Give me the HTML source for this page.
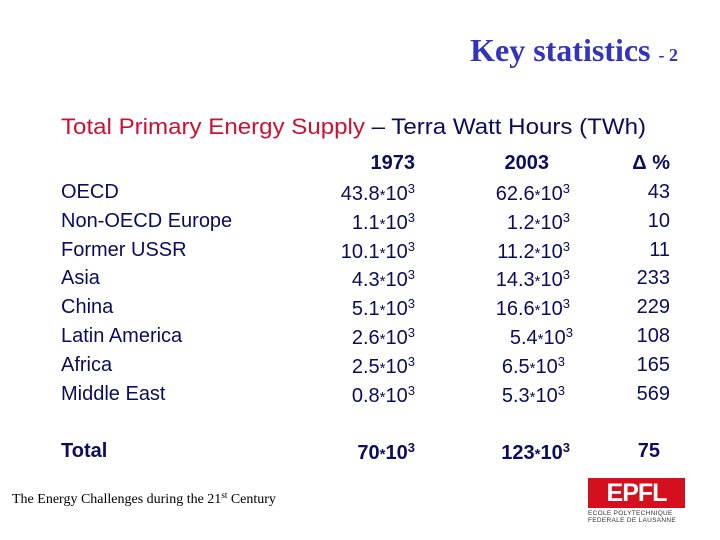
<!DOCTYPE html>
<html><head><meta charset="utf-8"><style>
body{margin:0;width:720px;height:540px;background:#fff;position:relative;overflow:hidden;font-family:"Liberation Sans",Arial,sans-serif;color:#0c0c5c}
.a{position:absolute;white-space:nowrap;line-height:1}
sup{font-size:13px;vertical-align:7px}
.cell{font-size:20px}
</style></head><body>
<div class="a" style="right:42px;top:34px;font-family:'Liberation Serif',serif;font-weight:bold;font-size:32px;color:#3333bb">Key statistics <span style="font-size:18px">- 2</span></div>
<div class="a" style="left:61px;top:116px;font-size:22px;transform:scaleX(1.095);transform-origin:left"><span style="color:#cc1133">Total Primary Energy Supply</span> – Terra Watt Hours (TWh)</div>
<div id="tbl"></div>
<div class="a" style="left:12px;top:491px;font-family:'Liberation Serif',serif;font-size:14px;color:#000">The Energy Challenges during the 21<sup style="font-size:9px;vertical-align:5px">st</sup> Century</div>
<div class="a" style="left:588px;top:478px;width:97px;height:46px">
<div style="position:absolute;left:0;top:0;width:97px;height:30px;background:#d4101e;color:#fff;font-weight:bold;font-size:25px;text-align:center;line-height:30px;letter-spacing:-1px">EPFL</div>
<div style="position:absolute;left:0;top:32px;font-size:6.5px;color:#333;line-height:7px;letter-spacing:0.3px">ECOLE POLYTECHNIQUE<br>FEDERALE DE LAUSANNE</div>
</div>
<script>
const regions=["OECD","Non-OECD Europe","Former USSR","Asia","China","Latin America","Africa","Middle East"];
const v1973=["43.8","1.1","10.1","4.3","5.1","2.6","2.5","0.8"];
const v2003=["62.6","1.2","11.2","14.3","16.6","5.4","6.5","5.3"];
const delta=["43","10","11","233","229","108","165","569"];
const totals=["Total","70","123","75"];
const t=document.getElementById('tbl');
function add(txt,x,y,right,bold,name,isHtml){
 const d=document.createElement('div');
 d.className='a cell';
 
 
 d.style.top=y+'px';
 if(right){d.style.right=(720-x)+'px';}else{d.style.left=x+'px';}
 if(bold)d.style.fontWeight='bold';
 if(isHtml)d.innerHTML=txt;else d.textContent=txt;
 t.appendChild(d);
}
const sci=s=>s+'<span style="font-size:15px">*</span>10<sup>3</sup>';
add('1973',415,153,true,true,'header-1973');
add('2003',549,153,true,true,'header-2003');
add('Δ %',670,153,true,true,'header-delta');
const off2003=[0,0,0,0,0,3,-5,-5];
regions.forEach((r,i)=>{
 const y=182+i*28.8;
 add(r,61,y,false,false,'region-label');
 add(sci(v1973[i]),415,y,true,false,'value-1973',true);
 add(sci(v2003[i]),570+off2003[i],y,true,false,'value-2003',true);
 add(delta[i],670,y,true,false,'value-delta');
});
add(totals[0],61,441,false,true,'total-label');
add(sci(totals[1]),415,441,true,true,'total-1973',true);
add(sci(totals[2]),570,441,true,true,'total-2003',true);
add(totals[3],660,441,true,true,'total-delta');
</script>
</body></html>
